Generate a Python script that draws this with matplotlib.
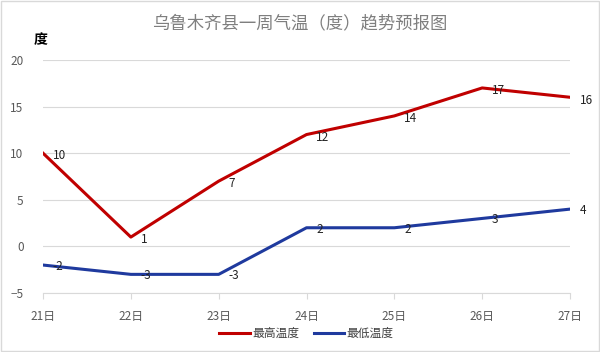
import matplotlib.pyplot as plt
import numpy as np

plt.rcParams["font.family"] = ["Noto Sans CJK SC", "DejaVu Sans"]

days = ["21日", "22日", "23日", "24日", "25日", "26日", "27日"]
high = [10, 1, 7, 12, 14, 17, 16]
low = [-2, -3, -3, 2, 2, 3, 4]
yticks = [-5, 0, 5, 10, 15, 20]

fig = plt.figure(figsize=(6.0, 3.52), dpi=100)
ax = fig.add_axes([0.0717, 0.1676, 0.8783, 0.662])

x = np.arange(len(days))
ax.plot(x, high, color="#c00000", lw=2.2, label="最高温度")
ax.plot(x, low, color="#1f3a9e", lw=2.2, label="最低温度")

for xi, v in zip(x, high):
    ax.annotate(str(v), (xi, v), xytext=(7, -2), textcoords="offset points",
                fontsize=8.5, color="#222222", va="center", ha="left")
for xi, v in zip(x, low):
    ax.annotate(str(v), (xi, v), xytext=(7, -1), textcoords="offset points",
                fontsize=8.5, color="#222222", va="center", ha="left")

ax.set_xlim(0, 6)
ax.set_ylim(-5, 20)
ax.set_yticks(yticks)
ax.set_xticks(x)
ax.set_xticklabels(days)
ax.grid(axis="y", color="#d9d9d9", lw=0.8)
ax.set_axisbelow(True)
for s in ["top", "right", "left"]:
    ax.spines[s].set_visible(False)
ax.spines["bottom"].set_color("#d9d9d9")
ax.tick_params(axis="y", length=0, labelsize=8.5, colors="#595959", pad=14)
ax.tick_params(axis="x", length=4, color="#d9d9d9", labelsize=8.5, colors="#595959", pad=8)

fig.text(0.5, 0.935, "乌鲁木齐县一周气温（度）趋势预报图", ha="center", va="center",
         fontsize=12.5, color="#7f7f7f")
fig.text(0.068, 0.885, "度", ha="center", va="center", fontsize=10, fontweight="bold",
         color="#000000")

ax.legend(loc="upper center", bbox_to_anchor=(0.5, -0.1), ncol=2, frameon=False,
          fontsize=8.5, labelcolor="#404040", handlelength=2.6, columnspacing=1.2,
          handletextpad=0.2)

fig.patches.append(plt.Rectangle((0.002, 0.003), 0.996, 0.994, transform=fig.transFigure,
                                 fill=False, edgecolor="#d9d9d9", lw=1))

fig.savefig("out.png", dpi=100)
